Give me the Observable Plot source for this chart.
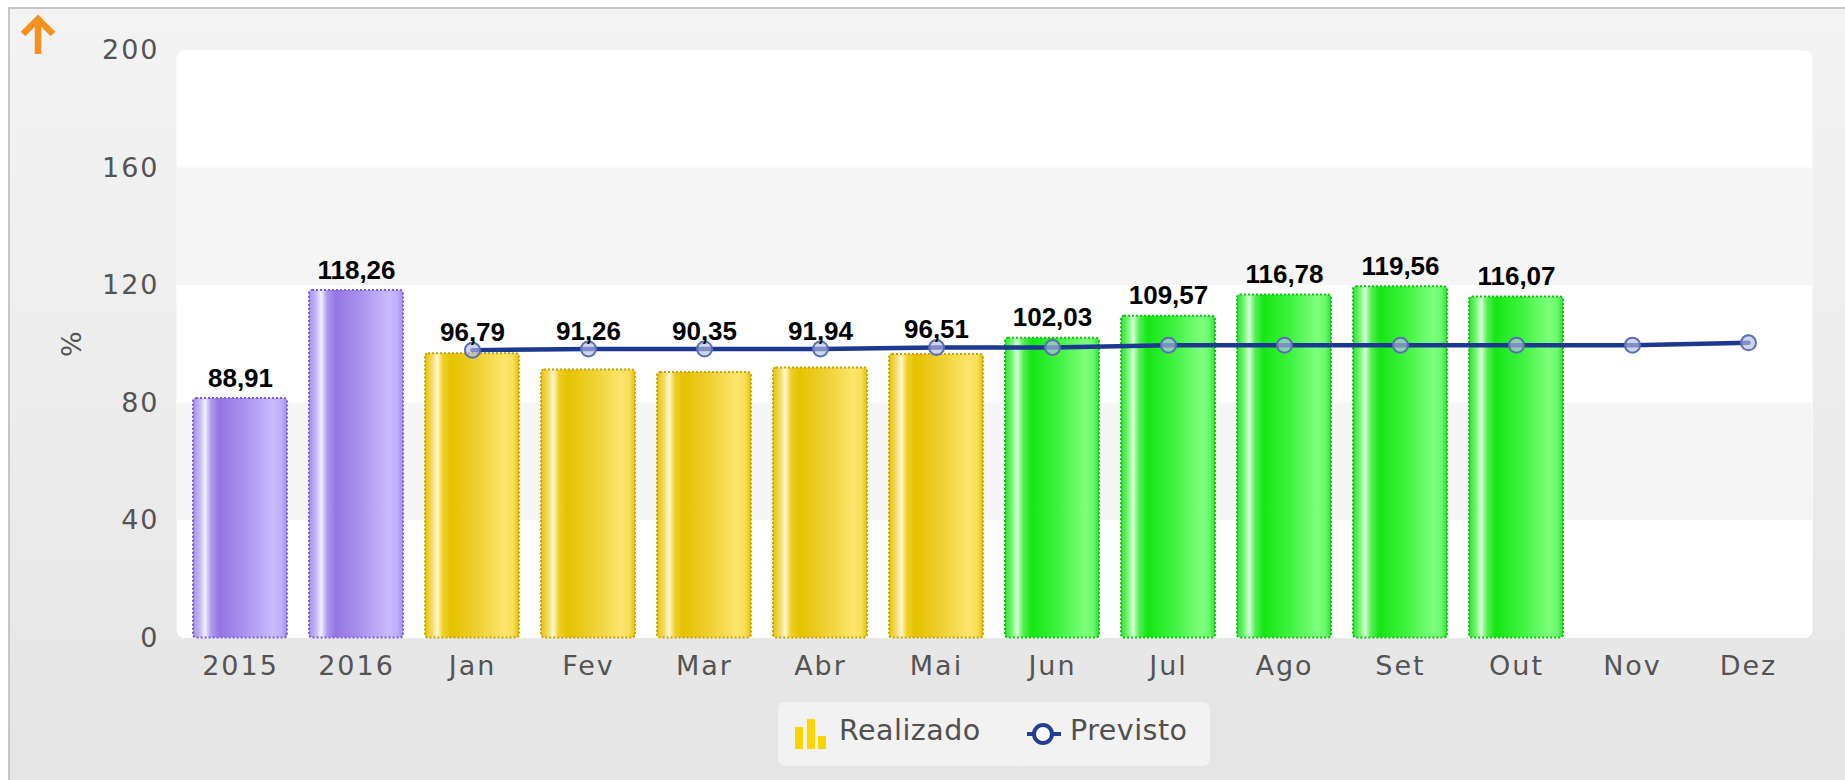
<!DOCTYPE html>
<html>
<head>
<meta charset="utf-8">
<script src="https://cdn.jsdelivr.net/npm/d3@7"></script>
<script src="https://cdn.jsdelivr.net/npm/@observablehq/plot@0.6"></script>
<style>
  html, body { margin: 0; padding: 0; background: #ffffff; }
  #wrap { position: relative; width: 1845px; height: 780px; overflow: hidden; }
  #moldura { position: absolute; left: 8px; top: 7px; width: 1900px; height: 900px;
    border-left: 2px solid #c6c6c6; border-top: 2px solid #c6c6c6;
    background: linear-gradient(to bottom, #f3f3f3 0px, #ececec 400px, #e4e4e4 780px); }
  #chart { position: absolute; left: 0; top: 0; }
  #chart svg [aria-label$="tick label"] text { letter-spacing: 2px; }
  #legenda { position: absolute; left: 778px; top: 702px; width: 432px; height: 64px;
    background: #f2f2f2; border-radius: 7px; font-family: "DejaVu Sans", sans-serif;
    font-size: 28.5px; color: #505050; }
  #legenda .item { position: absolute; top: 0; height: 64px; }
  #legenda span { position: absolute; top: 12px; white-space: nowrap; letter-spacing: 0.5px; }
</style>
</head>
<body>
<svg width="0" height="0" style="position:absolute">
  <defs>
    <linearGradient id="gRoxo" x1="0" x2="1" y1="0" y2="0">
      <stop offset="0%" stop-color="#a58deb"/>
      <stop offset="8%" stop-color="#c9bcf5"/>
      <stop offset="13%" stop-color="#f2efff"/>
      <stop offset="19%" stop-color="#b09bef"/>
      <stop offset="28%" stop-color="#9575e4"/>
      <stop offset="55%" stop-color="#aa93ee"/>
      <stop offset="85%" stop-color="#c9bbfd"/>
      <stop offset="94%" stop-color="#bfaef9"/>
      <stop offset="100%" stop-color="#a58eed"/>
    </linearGradient>
    <linearGradient id="gAmarelo" x1="0" x2="1" y1="0" y2="0">
      <stop offset="0%" stop-color="#e8c400"/>
      <stop offset="8%" stop-color="#f3dc70"/>
      <stop offset="13%" stop-color="#fff8d0"/>
      <stop offset="19%" stop-color="#efcf2a"/>
      <stop offset="28%" stop-color="#e6c200"/>
      <stop offset="55%" stop-color="#efd030"/>
      <stop offset="85%" stop-color="#fde56c"/>
      <stop offset="94%" stop-color="#f8de58"/>
      <stop offset="100%" stop-color="#e4c000"/>
    </linearGradient>
    <linearGradient id="gVerde" x1="0" x2="1" y1="0" y2="0">
      <stop offset="0%" stop-color="#24e624"/>
      <stop offset="8%" stop-color="#80f580"/>
      <stop offset="13%" stop-color="#d8ffd8"/>
      <stop offset="19%" stop-color="#58ef58"/>
      <stop offset="28%" stop-color="#16e616"/>
      <stop offset="55%" stop-color="#3cf23c"/>
      <stop offset="85%" stop-color="#7dff7d"/>
      <stop offset="94%" stop-color="#6cf96c"/>
      <stop offset="100%" stop-color="#2ee02e"/>
    </linearGradient>
  </defs>
</svg>
<div id="wrap">
  <div id="moldura"></div>
  <svg style="position:absolute;left:0;top:0" width="70" height="70">
    <path d="M38,54 L38,20 M23,34 L38,19 L53,34" fill="none" stroke="#f7901e" stroke-width="6.5" stroke-linejoin="miter"/>
  </svg>
  <div id="chart"></div>
  <div id="legenda">
    <div class="item" style="left:17px">
      <svg width="32" height="64" style="position:absolute;left:0;top:0">
        <rect x="0" y="25" width="8" height="22" fill="#fdd400"/>
        <rect x="12" y="17" width="8" height="30" fill="#fdd400"/>
        <rect x="23" y="34" width="8" height="13" fill="#fdd400"/>
      </svg>
      <span style="left:44px">Realizado</span>
    </div>
    <div class="item" style="left:249px">
      <svg width="34" height="64" style="position:absolute;left:0;top:0">
        <line x1="0" y1="32" x2="34" y2="32" stroke="#233e92" stroke-width="4"/>
        <circle cx="16" cy="32" r="9" fill="#ffffff" stroke="#233e92" stroke-width="4"/>
      </svg>
      <span style="left:43px">Previsto</span>
    </div>
  </div>
</div>
<script>
// ---- dados ----
const categorias = ["2015", "2016", "Jan", "Fev", "Mar", "Abr", "Mai", "Jun", "Jul", "Ago", "Set", "Out", "Nov", "Dez"];
const realizado  = [81.5, 118.26, 96.79, 91.26, 90.35, 91.94, 96.51, 102.03, 109.57, 116.78, 119.56, 116.07, null, null];
const rotulos    = ["88,91", "118,26", "96,79", "91,26", "90,35", "91,94", "96,51", "102,03", "109,57", "116,78", "119,56", "116,07", null, null];
const previsto   = [null, null, 98.0, 98.4, 98.4, 98.4, 98.9, 98.9, 99.7, 99.7, 99.7, 99.7, 99.7, 100.5];
const grupo      = ["ano", "ano", "abaixo", "abaixo", "abaixo", "abaixo", "abaixo", "acima", "acima", "acima", "acima", "acima", null, null];
const yTicks     = [0, 40, 80, 120, 160, 200];
const eixoY      = "%";

const linhas = categorias.map((c, i) => ({cat: c, real: realizado[i], rot: rotulos[i], prev: previsto[i], grupo: grupo[i]}));
const barras = linhas.filter(d => d.real != null);
const prevLinhas = linhas.filter(d => d.prev != null);
const faixas = [];
for (let i = 1; i < yTicks.length - 1; i += 2) faixas.push({y1: yTicks[i], y2: yTicks[i + 1]});

const estilos = {
  ano:    {fill: "url(#gRoxo)",    stroke: "#7a5cd6"},
  abaixo: {fill: "url(#gAmarelo)", stroke: "#c4a200"},
  acima:  {fill: "url(#gVerde)",   stroke: "#14c014"}
};

const sobreBarra = barras.filter(d => d.prev == null || d.real >= d.prev);
const sobrePonto = barras.filter(d => !(d.prev == null || d.real >= d.prev));
const estiloRotulo = {
  x: "cat", text: "rot", lineAnchor: "bottom",
  fontFamily: "Liberation Sans, Arial, sans-serif",
  fontWeight: "bold", fontSize: 26, fill: "#000"
};

const plot = Plot.plot({
  width: 1845,
  height: 700,
  marginLeft: 176,
  marginRight: 33,
  marginTop: 50,
  marginBottom: 62.5,
  style: {background: "transparent", fontFamily: "DejaVu Sans, sans-serif", fontSize: "27px", color: "#545454"},
  x: {domain: categorias, paddingInner: 0.19, paddingOuter: 0.095, tickSize: 0, tickPadding: 18, label: null},
  y: {domain: [0, 200], ticks: yTicks, tickSize: 0, tickPadding: 17, label: null},
  marks: [
    Plot.frame({fill: "white", stroke: null, rx: 8}),
    Plot.rect(faixas, {y1: "y1", y2: "y2", fill: "#f5f5f5"}),
    ...Object.entries(estilos).map(([g, s]) =>
      Plot.barY(barras.filter(d => d.grupo === g), {
        x: "cat", y: "real", fill: s.fill, stroke: s.stroke,
        strokeWidth: 2, strokeDasharray: "2,2", rx: 3
      })),
    Plot.line(prevLinhas, {x: "cat", y: "prev", stroke: "#1d3890", strokeWidth: 4.5}),
    Plot.dot(prevLinhas, {x: "cat", y: "prev", r: 7.5, fill: "#b3bfe4", fillOpacity: 0.65, stroke: "#5a6fb6", strokeWidth: 2}),
    Plot.text(sobreBarra, {...estiloRotulo, y: "real", dy: -12}),
    Plot.text(sobrePonto, {...estiloRotulo, y: "prev", dy: -9}),
    Plot.text([eixoY], {frameAnchor: "left", text: d => d, dx: -104, rotate: -90,
      fontSize: 27, fill: "#545454", textAnchor: "middle", lineAnchor: "middle"})
  ]
});
document.getElementById("chart").appendChild(plot);
</script>
</body>
</html>
